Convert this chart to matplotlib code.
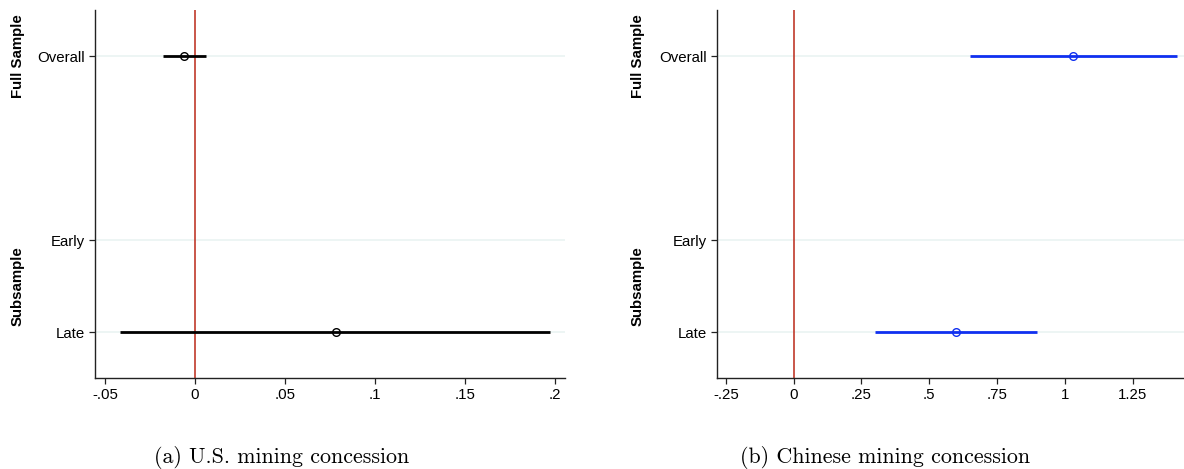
import matplotlib
matplotlib.use("Agg")
import matplotlib.pyplot as plt

categories = ["Overall", "Early", "Late"]
cat_pos = [0, 2, 3]
groups = ["Full Sample", "Subsample"]
group_pos = [0, 2.5]

# U.S. mining concession
us_point = [-0.0061, None, 0.0783]
us_lo = [-0.0178, None, -0.0417]
us_hi = [0.0061, None, 0.197]
us_ticks = [-0.05, 0, 0.05, 0.1, 0.15, 0.2]
us_ticklabels = ["-.05", "0", ".05", ".1", ".15", ".2"]

# Chinese mining concession
cn_point = [1.031, None, 0.599]
cn_lo = [0.651, None, 0.300]
cn_hi = [1.413, None, 0.898]
cn_ticks = [-0.25, 0, 0.25, 0.5, 0.75, 1, 1.25]
cn_ticklabels = ["-.25", "0", ".25", ".5", ".75", "1", "1.25"]

captions = ["(a) U.S. mining concession", "(b) Chinese mining concession"]

plt.rcParams['font.family'] = ['Liberation Sans', 'DejaVu Sans']

fig = plt.figure(figsize=(11.84, 4.69), dpi=100)
W, H = 1184, 469
FS = 10.8

def panel(rect, point, lo, hi, ticks, ticklabels, xlim, color, caption, cap_x, grp_x):
    ax = fig.add_axes(rect)
    ax.set_ylim(3.5, -0.5)
    ax.set_xlim(*xlim)
    for y in cat_pos:
        ax.axhline(y, color='#eaf4f2', lw=1.2, zorder=0)
    ax.axvline(0, color='#c0392b', lw=1.2, zorder=1)
    for y, p, l, h in zip(cat_pos, point, lo, hi):
        if p is None:
            continue
        ax.plot([l, h], [y, y], color=color, lw=2.0, solid_capstyle='butt', zorder=2)
        ax.plot([p], [y], marker='o', ms=5.5, mfc='none', mec=color, mew=1.0, zorder=3)
    ax.set_yticks(cat_pos)
    ax.set_yticklabels(categories, fontsize=FS)
    ax.set_xticks(ticks)
    ax.set_xticklabels(ticklabels, fontsize=FS)
    for s in ['top', 'right']:
        ax.spines[s].set_visible(False)
    for s in ['left', 'bottom']:
        ax.spines[s].set_linewidth(1.0)
        ax.spines[s].set_color('#222222')
    ax.tick_params(direction='out', length=4, width=0.9, color='#222222', pad=3)
    for g, gy in zip(groups, group_pos):
        ax.text(grp_x, gy, g, transform=ax.get_yaxis_transform(), rotation=90,
                ha='center', va='center', fontsize=FS, fontweight='bold')
    fig.text(cap_x / W, 1 - 457 / H, caption, family='cmr10', fontsize=15.8,
             ha='center', va='center')
    return ax

top = 10
bot = 378
ax1 = panel([95 / W, 1 - bot / H, 470 / W, (bot - top) / H], us_point, us_lo, us_hi,
            us_ticks, us_ticklabels, (-0.0556, 0.2056), 'black', captions[0], 282,
            (18 - 95) / 470)
ax2 = panel([717 / W, 1 - bot / H, 467 / W, (bot - top) / H], cn_point, cn_lo, cn_hi,
            cn_ticks, cn_ticklabels, (-0.283, 1.44), '#1030f0', captions[1], 885,
            (638 - 717) / 467)

fig.savefig("out.png", dpi=100)
